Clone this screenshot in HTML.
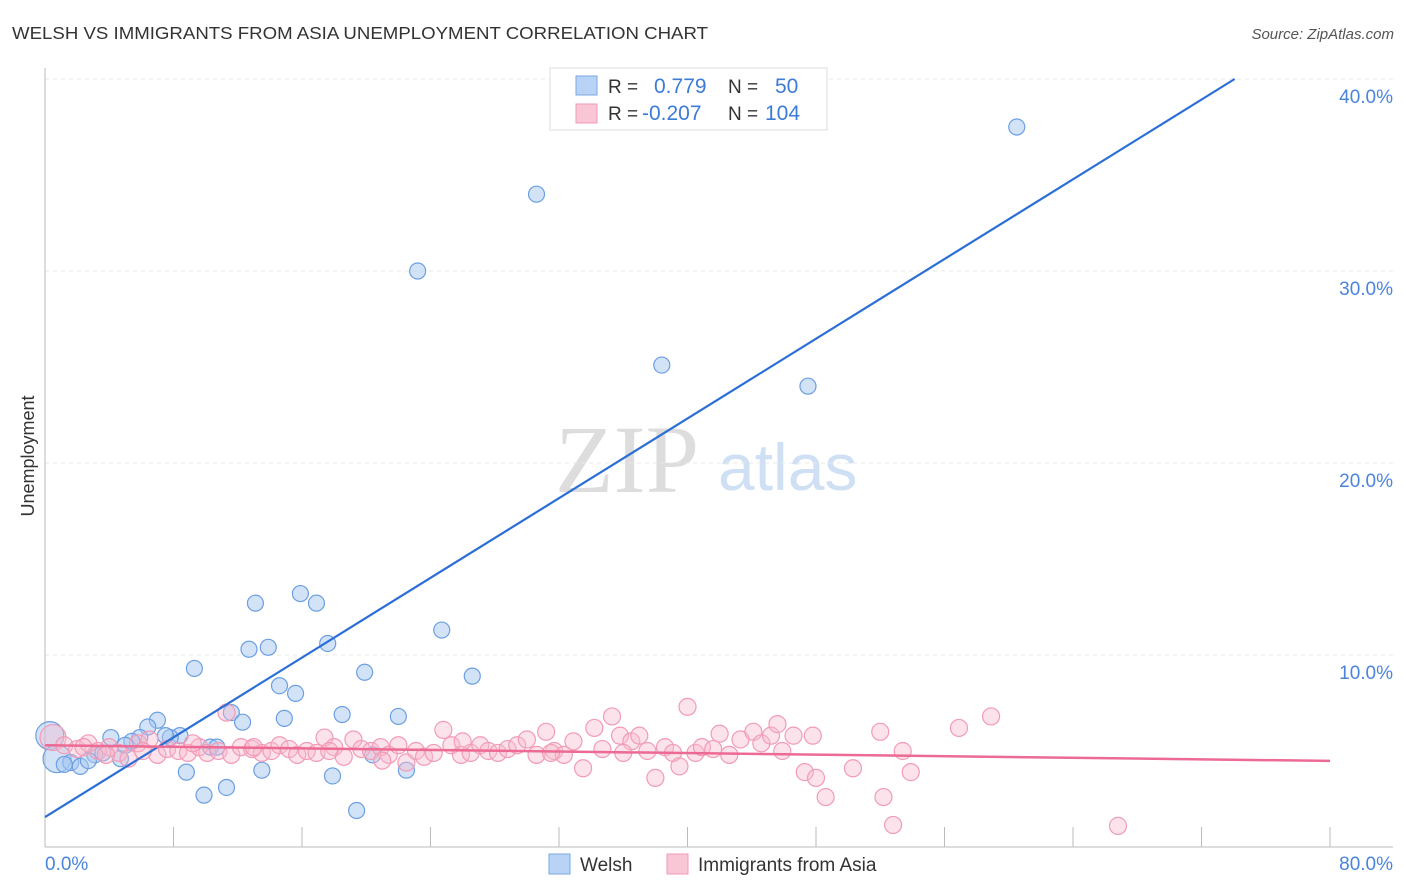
<!DOCTYPE html>
<html><head><meta charset="utf-8"><style>
body{margin:0;background:#fff;font-family:"Liberation Sans",sans-serif;}
#wrap{position:relative;width:1406px;height:892px;overflow:hidden;}
svg text{font-family:"Liberation Sans",sans-serif;}
</style></head><body>
<div id="wrap">
<svg id="c" width="1406" height="892">
<text x="12" y="39" font-size="17.5" fill="#333" textLength="696" lengthAdjust="spacingAndGlyphs">WELSH VS IMMIGRANTS FROM ASIA UNEMPLOYMENT CORRELATION CHART</text>
<text x="1394" y="39" font-size="15" fill="#555" font-style="italic" text-anchor="end">Source: ZipAtlas.com</text>
<text x="34" y="456" font-size="18" fill="#333" text-anchor="middle" transform="rotate(-90 34 456)">Unemployment</text>
<text x="555" y="492" font-size="96" fill="#ddd" style="font-family:'Liberation Serif',serif">ZIP</text>
<text x="718" y="490" font-size="66" fill="#cfe0f5">atlas</text>
<g id="grid"></g><g id="pts"></g><g id="lines"></g>
<g>
<rect x="550" y="68" width="277" height="62" fill="#fff" stroke="#ddd"/>
<rect x="576" y="76" width="21" height="19" fill="#b8d3f5" stroke="#7aa8e6"/>
<rect x="576" y="104" width="21" height="19" fill="#f9c6d6" stroke="#f09ab5"/>
<text x="608" y="93" font-size="19" fill="#333">R =</text>
<text x="654" y="93" font-size="21" fill="#3d7bd8">0.779</text>
<text x="728" y="93" font-size="19" fill="#333">N =</text>
<text x="775" y="93" font-size="21" fill="#3d7bd8">50</text>
<text x="608" y="120" font-size="19" fill="#333">R =</text>
<text x="642" y="120" font-size="21" fill="#3d7bd8">-0.207</text>
<text x="728" y="120" font-size="19" fill="#333">N =</text>
<text x="765" y="120" font-size="21" fill="#3d7bd8">104</text>
</g>
<g>
<rect x="549" y="854" width="21" height="20" fill="#b8d3f5" stroke="#7aa8e6"/>
<text x="580" y="871" font-size="19" fill="#333">Welsh</text>
<rect x="667" y="854" width="21" height="20" fill="#f9c6d6" stroke="#f09ab5"/>
<text x="698" y="871" font-size="19" fill="#333">Immigrants from Asia</text>
</g>
</svg>
</div>
<script>
const yTicks=[10,20,30,40];
const yTickLabels=["10.0%","20.0%","30.0%","40.0%"];
const xTickLabels=["0.0%","80.0%"];
const welsh=[[60.5,37.5],[30.6,34.0],[23.2,30.0],[38.4,25.1],[47.5,24.0],[15.9,13.2],[13.1,12.7],[16.9,12.7],[24.7,11.3],[13.9,10.4],[12.7,10.3],[17.6,10.6],[9.3,9.3],[19.9,9.1],[26.6,8.9],[14.6,8.4],[15.6,8.0],[11.6,7.0],[18.5,6.9],[22.0,6.8],[12.3,6.5],[14.9,6.7],[7.0,6.6],[6.4,6.25],[8.4,5.8],[7.8,5.7],[5.9,5.7],[4.1,5.7],[5.4,5.5],[0.3,5.8],[0.75,4.6],[1.6,4.4],[2.2,4.2],[3.1,4.8],[3.6,4.9],[4.7,4.6],[10.3,5.2],[10.7,5.2],[20.4,4.8],[8.8,3.9],[13.5,4.0],[22.5,4.0],[17.9,3.7],[9.9,2.7],[11.3,3.1],[19.4,1.9],[1.2,4.3],[2.7,4.5],[7.5,5.8],[5.0,5.3]];
const asia=[[0.5,5.7],[1.2,5.3],[2,5.1],[2.7,5.4],[3.3,5.0],[4,5.2],[4.6,4.9],[5.2,4.6],[5.8,5.4],[6.5,5.6],[7,4.8],[7.6,5.1],[8.3,5.0],[8.9,4.9],[9.6,5.2],[10.1,4.9],[10.8,5.0],[11.3,7.0],[11.6,4.8],[12.2,5.2],[12.9,5.1],[13.5,4.9],[14.1,5.0],[14.6,5.3],[15.2,5.1],[15.7,4.8],[16.3,5.0],[16.9,4.9],[17.4,5.7],[18.0,5.2],[18.6,4.7],[19.2,5.6],[19.7,5.1],[20.3,5.0],[20.9,5.2],[21.4,4.8],[22.0,5.3],[22.5,4.4],[23.1,5.0],[23.6,4.7],[24.2,4.9],[24.8,6.1],[25.3,5.3],[25.9,4.8],[26.5,4.9],[27.1,5.3],[27.6,5.0],[28.2,4.9],[28.8,5.1],[29.4,5.3],[30.0,5.6],[30.6,4.8],[31.2,6.0],[31.7,5.0],[32.3,4.8],[32.9,5.5],[33.5,4.1],[34.2,6.2],[34.7,5.1],[35.3,6.8],[35.8,5.8],[36.5,5.5],[37.0,5.8],[37.5,5.0],[38.0,3.6],[38.6,5.2],[39.1,4.9],[39.5,4.2],[40.0,7.3],[40.5,4.9],[40.9,5.2],[42.0,5.9],[42.6,4.8],[43.3,5.6],[44.1,6.0],[44.6,5.4],[45.2,5.8],[45.6,6.4],[45.9,5.0],[46.6,5.8],[47.3,3.9],[47.8,5.8],[48.0,3.6],[48.6,2.6],[50.3,4.1],[52.0,6.0],[52.2,2.6],[52.8,1.15],[53.4,5.0],[53.9,3.9],[56.9,6.2],[58.9,6.8],[66.8,1.1],[2.4,5.2],[3.8,4.8],[6.1,5.0],[9.2,5.4],[13.0,5.2],[17.7,5.0],[21.0,4.5],[26.0,5.5],[31.5,4.9],[36.0,4.9],[41.6,5.1]];
const welshTrend=[1.56,0.519];
const asiaTrend=[5.3,-0.0102];
const NS="http://www.w3.org/2000/svg";
const X=v=>45+v*1285/80, Y=v=>847-v*19.2;
function mk(tag,attrs,parent){const e=document.createElementNS(NS,tag);for(const k in attrs)e.setAttribute(k,attrs[k]);parent.appendChild(e);return e;}
const grid=document.getElementById('grid'),pts=document.getElementById('pts'),lines=document.getElementById('lines');
yTicks.forEach((t,i)=>{
 const l=mk('line',{x1:45,x2:1393,y1:Y(t),y2:Y(t),stroke:'#e8e8e8','stroke-dasharray':'4,4'},grid);
 
 
 const tx=mk('text',{x:1393,y:Y(t)+24,'font-size':19,fill:'#4a84dc','text-anchor':'end'},grid);
 tx.textContent=yTickLabels[i];
 
 
});
const ax=mk('line',{x1:45,x2:45,y1:68,y2:847,stroke:'#bbb'},grid);


const bx=mk('line',{x1:45,x2:1393,y1:847,y2:847,stroke:'#bbb'},grid);


for(let i=1;i<=10;i++){const tk=mk('line',{x1:X(i*8),x2:X(i*8),y1:827,y2:847,stroke:'#bbb'},grid);
 
 }
const xl0=mk('text',{x:45,y:870,'font-size':19,fill:'#4a84dc'},grid);xl0.textContent=xTickLabels[0];


const xl1=mk('text',{x:1393,y:870,'font-size':19,fill:'#4a84dc','text-anchor':'end'},grid);xl1.textContent=xTickLabels[1];


welsh.forEach((p,i)=>{const c=mk('circle',{cx:X(p[0]),cy:Y(p[1]),r:(i==29||i==30)?14:8,fill:'rgba(165,200,242,0.5)',stroke:'#6c9fe2','stroke-width':1.2},pts);
 
 });
asia.forEach((p,i)=>{const c=mk('circle',{cx:X(p[0]),cy:Y(p[1]),r:i==0?13:8.5,fill:'rgba(248,185,205,0.4)',stroke:'#f29bb6','stroke-width':1.2},pts);
 
 });
const xEnd=(40-welshTrend[0])/welshTrend[1];
const wl=mk('line',{x1:X(0),y1:Y(welshTrend[0]),x2:X(xEnd),y2:Y(40),stroke:'#2b6fd6','stroke-width':2.2},lines);


const al=mk('line',{x1:X(0),y1:Y(asiaTrend[0]),x2:X(80),y2:Y(asiaTrend[0]+asiaTrend[1]*80),stroke:'#ec6a94','stroke-width':2.5},lines);


</script>
</body></html>
